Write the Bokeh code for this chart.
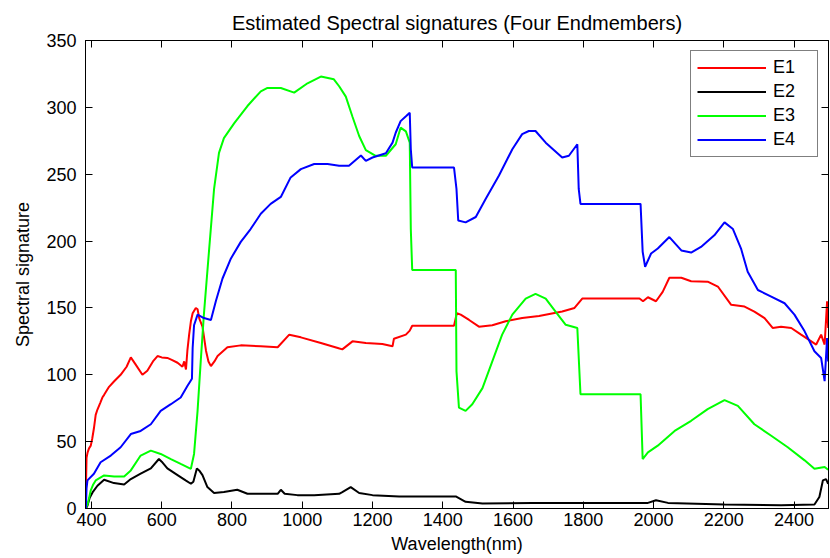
from bokeh.plotting import figure
from bokeh.models import Range1d, FixedTicker, LinearAxis, Legend, LegendItem, CustomLabelingPolicy
from bokeh.embed import file_html
from bokeh.resources import INLINE

x_ticks = [400, 600, 800, 1000, 1200, 1400, 1600, 1800, 2000, 2200, 2400]
y_ticks = [0, 50, 100, 150, 200, 250, 300, 350]
series_names = ["E1", "E2", "E3", "E4"]

e1_nm = [384, 386, 389, 393, 398, 402, 407, 412, 417, 425, 431, 436, 450, 464, 483, 500, 512, 525, 545, 559,
         575, 588, 600, 616, 630, 645, 659, 664, 669, 673, 678, 683, 688, 697, 702, 707, 716, 726, 733, 740,
         750, 759, 787, 825, 882, 930, 963, 996, 1053, 1106, 1114, 1143, 1181, 1228, 1257, 1261, 1295, 1306,
         1313, 1432, 1440, 1451, 1475, 1503, 1541, 1579, 1626, 1674, 1740, 1775, 1797, 1960, 1970, 1984, 2007,
         2026, 2045, 2079, 2107, 2154, 2183, 2221, 2259, 2287, 2316, 2339, 2363, 2392, 2420, 2449, 2463, 2477,
         2487, 2494, 2497]
e1_val = [13, 38, 42, 45, 47, 52, 60, 70, 74, 79, 83, 85, 91, 95, 100, 106, 113, 108, 100, 103,
          110, 114, 113, 112.6, 111, 109, 106, 110, 104, 118, 130, 140, 146, 150, 149, 142, 136, 118, 110, 106.5,
          110, 114, 120.6, 122, 121.3, 120.6, 130, 128, 123.8, 119.6, 119, 125, 123.8, 123, 121.3, 127, 130, 133,
          136.7, 136.7, 146, 145, 141, 136, 137, 140, 142.4, 144, 147.3, 150, 157, 157, 155, 158, 155,
          162, 172.6, 172.6, 170, 169.6, 166, 152.3, 151, 147.3, 142.4, 135, 136, 135, 130, 125, 122.6, 130,
          122.6, 155, 135]

e2_nm = [384, 388.5, 395, 403, 417, 436, 464, 493, 512, 540, 569, 592, 600, 616, 645, 668, 683, 690, 700,
         708, 716, 730, 749, 777, 815, 844, 891, 930, 939, 950, 986, 1034, 1105, 1114, 1138, 1162, 1200, 1276,
         1437, 1465, 1513, 1655, 1797, 1984, 2007, 2041, 2202, 2363, 2458, 2472, 2482, 2491, 2497]
e2_val = [0, 2, 8, 12, 17, 21.5, 19, 18, 22, 26, 30, 37, 35, 30, 25, 21, 18.5, 20, 30,
          28, 25, 16, 11.6, 12.3, 14, 11, 11, 11, 14, 11, 10, 10, 11, 12.3, 16, 11.6, 10, 9,
          9, 5, 3.7, 4.2, 4.2, 4.2, 6.2, 4.2, 3, 2.4, 3, 8.6, 21, 22, 18.5]

e3_nm = [384, 390, 398, 405, 412, 436, 464.5, 493, 512, 540, 569, 597, 626, 654, 683, 692, 702, 711, 720, 735,
         749, 763, 777, 806, 844, 882, 901, 939, 977, 1015, 1053, 1090, 1105, 1124, 1143, 1162, 1181, 1209, 1238,
         1266, 1280, 1295, 1306, 1309, 1313, 1437, 1439, 1446, 1465, 1484, 1513, 1541, 1569, 1598, 1636, 1664,
         1693, 1721, 1750, 1783, 1792, 1963, 1969, 1984, 2012, 2060, 2107, 2154, 2202, 2240, 2287, 2335, 2382,
         2430, 2458, 2487, 2497]
e3_val = [0, 4, 13.6, 18, 21, 24.7, 24, 24, 28.5, 39.6, 43.3, 40.8, 37, 33.4, 29.7, 40.8, 73, 110, 145, 194,
          239, 266, 277, 288, 301, 312, 314.5, 314.5, 311, 318, 323, 321, 315.8, 308, 293, 278.6, 268, 263.8, 263.8,
          272.4, 284.8, 282, 273.6, 209, 178.3, 178.3, 102.7, 75.5, 73, 78, 90, 110, 130, 145, 157, 160.5,
          157, 147.3, 137.4, 135, 85.4, 85.4, 37, 42, 47, 58, 65.6, 74.3, 81, 76.7, 63, 54.4, 45.8,
          36, 29.7, 31, 29]

e4_nm = [384, 386, 388.5, 407, 426, 455, 483, 512, 540, 569, 597, 626, 654, 673, 686, 688, 692, 702, 720, 740,
         754, 773, 797, 825, 853, 882, 910, 939, 967, 996, 1034, 1072, 1105, 1133, 1167, 1181, 1200, 1238, 1257,
         1266, 1280, 1296, 1306, 1309, 1313, 1432, 1439, 1444, 1465, 1494, 1522, 1560, 1598, 1626, 1645, 1664,
         1693, 1740, 1759, 1783, 1787, 1792, 1963, 1969, 1976, 1993, 2012, 2045, 2079, 2107, 2135, 2173, 2202,
         2226, 2249, 2268, 2297, 2335, 2373, 2401, 2430, 2458, 2477, 2487, 2494, 2497]
e4_val = [0, 15, 21, 26, 34.6, 39.6, 45.8, 55.7, 58, 63, 73, 78, 83, 91.6, 97, 120, 137, 145, 142.4, 141,
          155, 172, 187, 199.4, 209, 220.4, 227.8, 233, 247.6, 253.8, 257.6, 257.6, 256.3, 256.3, 264, 260, 262.5,
          265.7, 273.6, 281, 289.7, 293.5, 296, 268.7, 255, 255, 239, 215.4, 214, 218, 231.5, 249, 268.7, 280,
          282.3, 282.3, 273.6, 262.5, 263.8, 272.4, 239, 227.8, 227.8, 192, 180.8, 190.7, 194.4, 203, 193, 191.4,
          195.6, 204.3, 214, 209, 194.4, 177, 163.4, 158.5, 153.5, 145, 132.5, 117.6, 112.6, 95.3, 127.5, 110]

FONT = "Liberation Sans"

p = figure(width=830, height=558, output_backend="svg", toolbar_location=None,
           x_range=Range1d(383, 2498), y_range=Range1d(0, 350),
           min_border_left=85, min_border_right=2, min_border_top=40, min_border_bottom=50,
           title="Estimated Spectral signatures (Four Endmembers)")
p.title.align = "center"
p.title.text_font = FONT
p.title.text_font_size = "20px"
p.title.text_font_style = "normal"
p.title.text_color = "black"
p.title.standoff = 13
p.grid.visible = False
p.outline_line_color = "black"
p.outline_line_width = 1
p.background_fill_color = "white"
p.border_fill_color = "white"

for ax in p.xaxis:
    ax.ticker = FixedTicker(ticks=x_ticks)
    ax.axis_label = "Wavelength(nm)"
for ax in p.yaxis:
    ax.ticker = FixedTicker(ticks=y_ticks)
    ax.axis_label = "Spectral signature"

for ax in list(p.xaxis) + list(p.yaxis):
    ax.major_tick_in = 7
    ax.major_tick_out = 0
    ax.minor_tick_line_color = None
    ax.major_label_text_font = FONT
    ax.major_label_text_font_size = "18px"
    ax.major_label_text_color = "black"
    ax.axis_label_text_font = FONT
    ax.axis_label_text_font_size = "18px"
    ax.axis_label_text_font_style = "normal"
    ax.axis_label_text_color = "black"
    ax.axis_line_color = "black"
    ax.major_tick_line_color = "black"
p.xaxis.major_label_standoff = 4
p.xaxis.axis_label_standoff = 5
p.yaxis.major_label_standoff = 9
p.yaxis.axis_label_standoff = 10

no_labels = CustomLabelingPolicy(code="return []")
top_ax = LinearAxis(ticker=FixedTicker(ticks=x_ticks), major_tick_in=7, major_tick_out=0,
                    minor_tick_line_color=None, major_label_policy=no_labels,
                    major_label_text_font_size="0px", major_label_standoff=0)
right_ax = LinearAxis(ticker=FixedTicker(ticks=y_ticks), major_tick_in=7, major_tick_out=0,
                      minor_tick_line_color=None, major_label_policy=no_labels,
                      major_label_text_font_size="0px", major_label_standoff=0)
p.add_layout(top_ax, "above")
p.add_layout(right_ax, "right")

colors = ["#ff0000", "#000000", "#00ff00", "#0000ff"]
xs = [e1_nm, e2_nm, e3_nm, e4_nm]
ys = [e1_val, e2_val, e3_val, e4_val]
items = []
for name, c, x, y in zip(series_names, colors, xs, ys):
    r = p.line(x, y, line_color=c, line_width=2)
    items.append(LegendItem(label=name, renderers=[r]))

legend = Legend(items=items, location="top_right")
legend.margin = 10
legend.padding = 6
legend.spacing = 3
legend.glyph_width = 69
legend.glyph_height = 17
legend.label_height = 17
legend.label_width = 38
legend.label_standoff = 7
legend.label_text_font = FONT
legend.label_text_font_size = "18px"
legend.label_text_color = "black"
legend.border_line_color = "black"
legend.border_line_width = 1
legend.background_fill_color = "white"
legend.background_fill_alpha = 1
p.add_layout(legend)

open("out.html", "w").write(file_html(p, INLINE))
